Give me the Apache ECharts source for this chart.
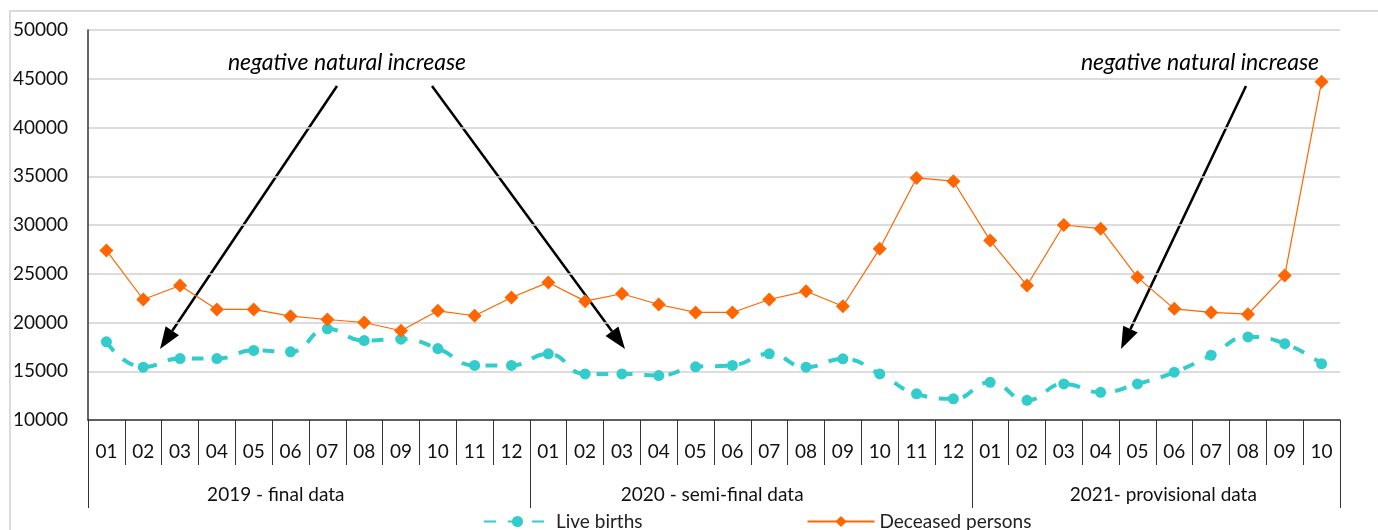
<!DOCTYPE html>
<html>
<head>
<meta charset="utf-8">
<script src="https://cdn.jsdelivr.net/npm/echarts@6/dist/echarts.min.js"></script>
<style>
  html, body { margin: 0; padding: 0; background: #fff; }
  #main { width: 1378px; height: 530px; }
</style>
</head>
<body>
<div id="main"></div>
<script>
// months: 2019 (12), 2020 (12), 2021 (10)
const months = [
  '01', '02', '03', '04', '05', '06', '07', '08', '09', '10', '11', '12',
  '01', '02', '03', '04', '05', '06', '07', '08', '09', '10', '11', '12',
  '01', '02', '03', '04', '05', '06', '07', '08', '09', '10'
];
const yearLabels = ['2019 - final data', '2020 - semi-final data', '2021- provisional data'];
const yearBounds = [0, 12, 24, 34];
// where the year captions sit along the month axis (as in the original)
const yearLabelPos = [5.1, 16.95, 29.2];

const liveBirths = [
  18020, 15420, 16300, 16300, 17130, 16990, 19350, 18150, 18290, 17330, 15600, 15600,
  16790, 14730, 14730, 14560, 15450, 15600, 16790, 15420, 16270, 14730, 12680, 12170,
  13870, 12020, 13700, 12840, 13700, 14900, 16640, 18520, 17830, 15770
];
const deceased = [
  27390, 22360, 23800, 21340, 21340, 20650, 20310, 20000, 19150, 21200, 20690, 22570,
  24110, 22190, 22950, 21850, 21030, 21030, 22360, 23210, 21670, 27570, 34830, 34490,
  28400, 23800, 30000, 29620, 24630, 21400, 21030, 20850, 24830, 44690
];

const noteText = 'negative natural increase';

// arrow line + filled head
function arrow(x1, y1, x2, y2) {
  const ang = Math.atan2(y2 - y1, x2 - x1);
  const len = 22, half = 8;
  const bx = x2 - len * Math.cos(ang), by = y2 - len * Math.sin(ang);
  const px = -Math.sin(ang) * half, py = Math.cos(ang) * half;
  return [
    {
      type: 'line',
      shape: { x1: x1, y1: y1, x2: bx, y2: by },
      style: { stroke: '#000', lineWidth: 2.5 }
    },
    {
      type: 'polygon',
      shape: { points: [[x2, y2], [bx + px, by + py], [bx - px, by - py]] },
      style: { fill: '#000' }
    }
  ];
}

const myChart = echarts.init(document.getElementById('main'));
const font = 'Lato, "Open Sans", sans-serif';

myChart.setOption({
  animation: false,
  textStyle: { fontFamily: font },
  grid: { left: 88, right: 38, top: 30, bottom: 110 },
  legend: {
    left: 478,
    top: 507,
    itemWidth: 67,
    itemHeight: 14,
    itemGap: 164,
    textStyle: { fontSize: 19, color: '#222', fontFamily: font },
    data: ['Live births', 'Deceased persons']
  },
  xAxis: [
    {
      type: 'category',
      data: months,
      boundaryGap: true,
      position: 'bottom',
      axisLine: { show: true, lineStyle: { color: '#333', width: 1.5 } },
      axisTick: { show: true, length: 45, interval: 0, lineStyle: { color: '#333', width: 1 } },
      axisLabel: { interval: 0, fontSize: 19, color: '#111', margin: 22 },
      splitLine: { show: false }
    },
    {
      type: 'value',
      min: 0,
      max: 34,
      position: 'bottom',
      offset: 0,
      axisLine: { show: false },
      axisTick: {
        show: true,
        length: 88,
        customValues: yearBounds,
        lineStyle: { color: '#333', width: 1 }
      },
      axisLabel: {
        show: true,
        customValues: yearLabelPos,
        fontSize: 19,
        color: '#111',
        margin: 65,
        formatter: function(v) {
          let best = 0;
          for (let i = 1; i < yearLabelPos.length; i++) {
            if (Math.abs(yearLabelPos[i] - v) < Math.abs(yearLabelPos[best] - v)) {
              best = i;
            }
          }
          return yearLabels[best];
        }
      },
      splitLine: { show: false }
    }
  ],
  yAxis: {
    type: 'value',
    min: 10000,
    max: 50000,
    interval: 5000,
    axisLine: { show: true, lineStyle: { color: '#333', width: 1.5 } },
    axisTick: { show: false },
    axisLabel: {
      fontSize: 19,
      color: '#111',
      margin: 20,
      formatter: function(v) {
        return String(v);
      }
    },
    splitLine: { show: true, lineStyle: { color: '#d0d0d0', width: 1.5 } }
  },
  series: [
    {
      name: 'Live births',
      type: 'line',
      data: liveBirths,
      smooth: true,
      symbol: 'circle',
      symbolSize: 11,
      itemStyle: { color: '#33CCCC' },
      lineStyle: { color: '#33CCCC', width: 4, type: [12, 12] },
      z: 3
    },
    {
      name: 'Deceased persons',
      type: 'line',
      data: deceased,
      symbol: 'diamond',
      symbolSize: 14,
      itemStyle: { color: '#FF6600' },
      lineStyle: { color: '#FF6600', width: 1.2 },
      z: 4
    }
  ],
  graphic: [
    {
      type: 'rect',
      silent: true,
      shape: { x: 10, y: 11, width: 1500, height: 600 },
      style: { fill: 'none', stroke: '#d0d0d0', lineWidth: 1.5 }
    },
    {
      type: 'text',
      x: 347,
      y: 63,
      style: {
        text: noteText,
        font: 'italic 23px ' + font,
        fill: '#000',
        align: 'center',
        verticalAlign: 'middle'
      }
    },
    {
      type: 'text',
      x: 1200,
      y: 63,
      style: {
        text: noteText,
        font: 'italic 23px ' + font,
        fill: '#000',
        align: 'center',
        verticalAlign: 'middle'
      }
    }
  ]
    .concat(arrow(337, 86, 160, 349))
    .concat(arrow(432, 86, 625, 349))
    .concat(arrow(1246, 86, 1121, 349))
});

window.addEventListener('resize', function() {
  myChart.resize();
});
</script>
</body>
</html>
